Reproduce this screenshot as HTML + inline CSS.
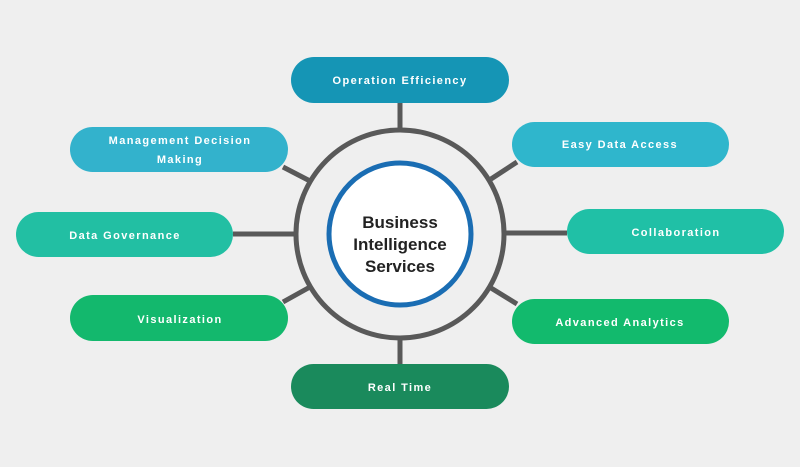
<!DOCTYPE html>
<html><head><style>
body{margin:0;background:#efefef;}
svg{display:block}
text{font-family:"Liberation Sans",Arial,sans-serif;}
.p{fill:#fff;font-size:11px;font-weight:bold;letter-spacing:1.4px;text-anchor:middle}
.c{fill:#222;font-size:17px;font-weight:bold;text-anchor:middle}
</style></head><body>
<svg width="800" height="467" viewBox="0 0 800 467">
<rect width="800" height="467" fill="#efefef"/>
<g stroke="#595959" stroke-width="5" fill="none">
<line x1="400" y1="103" x2="400" y2="130"/>
<line x1="400" y1="338" x2="400" y2="364"/>
<line x1="233" y1="234" x2="296" y2="234"/>
<line x1="504" y1="233" x2="567" y2="233"/>
<line x1="283" y1="167" x2="310" y2="181"/>
<line x1="283" y1="302" x2="310" y2="287"/>
<line x1="517" y1="162" x2="491" y2="179"/>
<line x1="517" y1="304" x2="491" y2="288"/>
<circle cx="400" cy="234" r="104"/>
</g>
<circle cx="400" cy="234" r="71" fill="#fff" stroke="#1a6db3" stroke-width="5"/>
<text class="c" x="400" y="228">Business</text>
<text class="c" x="400" y="250">Intelligence</text>
<text class="c" x="400" y="272">Services</text>
<rect x="291" y="57" width="218" height="46" rx="23" fill="#1595b5"/>
<text class="p" x="400" y="84">Operation  Efficiency</text>
<rect x="512" y="122" width="217" height="45" rx="22.5" fill="#2fb6cc"/>
<text class="p" x="620" y="148">Easy Data Access</text>
<rect x="70" y="127" width="218" height="45" rx="22.5" fill="#33b2cc"/>
<text class="p" x="180" y="144">Management  Decision</text>
<text class="p" x="180" y="163">Making</text>
<rect x="567" y="209" width="217" height="45" rx="22.5" fill="#20c0a6"/>
<text class="p" x="676" y="236">Collaboration</text>
<rect x="16" y="212" width="217" height="45" rx="22.5" fill="#22bfa3"/>
<text class="p" x="125" y="239">Data  Governance</text>
<rect x="70" y="295" width="218" height="46" rx="23" fill="#13b86d"/>
<text class="p" x="180" y="323">Visualization</text>
<rect x="512" y="299" width="217" height="45" rx="22.5" fill="#12ba6d"/>
<text class="p" x="620" y="326">Advanced  Analytics</text>
<rect x="291" y="364" width="218" height="45" rx="22.5" fill="#1a8a5c"/>
<text class="p" x="400" y="391">Real  Time</text>
</svg>
</body></html>
